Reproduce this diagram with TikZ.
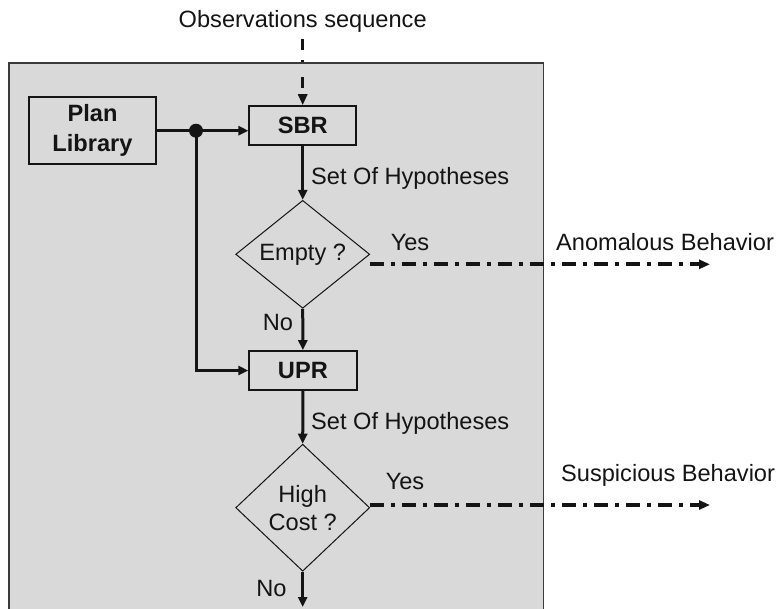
\documentclass[tikz,border=0pt]{standalone}
\usepackage{fontspec}
\setmainfont{Liberation Sans}
\usetikzlibrary{arrows.meta,shapes.geometric}
\definecolor{panel}{HTML}{D9D9D9}
\definecolor{panelline}{HTML}{3A3A3A}
\definecolor{ink}{HTML}{141414}
\begin{document}
\begin{tikzpicture}[x=1pt,y=-1pt,
  font=\fontsize{23.6}{30}\selectfont,
  box/.style={draw=ink, line width=1.6pt, rectangle, inner sep=0pt, align=center,
    font=\fontsize{23.6}{30}\selectfont\bfseries, text=ink},
  decision/.style={draw=ink, line width=1pt, diamond, inner sep=0pt, align=center,
    minimum width=134pt, text=ink, font=\fontsize{23.6}{28}\selectfont},
  lbl/.style={inner sep=0pt, text=ink},
  flow/.style={draw=ink, line width=3pt, -{Triangle[length=10pt,width=9pt]}},
  dashdot/.style={draw=ink, line width=3.8pt, dash pattern=on 14pt off 7pt on 4pt off 7pt,
    -{Triangle[length=11pt,width=9pt]}},
  obsdash/.style={draw=ink, line width=3.5pt, dash pattern=on 11pt off 10pt on 2pt off 15pt,
    -{Triangle[length=11pt,width=9pt]}},
]
\useasboundingbox (0,0) rectangle (778,608);
% panel
\fill[panel] (9,63) rectangle (543.5,620);
\draw[panelline, line width=1.5pt] (9,620) -- (9,63) -- (543.5,63) -- (543.5,620);

% nodes
\node[lbl] (obs) at (302.7,21) {Observations sequence};
\coordinate (obsstart) at (302.7,39);
\node[box, minimum width=127pt, minimum height=67pt] (plan) at (92.5,130.7) {Plan\\Library};
\node[box, minimum width=107pt, minimum height=39pt] (sbr) at (302.7,125.5) {SBR};
\node[decision, minimum height=99pt] (d1) at (302.7,254.3) {Empty ?};
\node[box, minimum width=107.7pt, minimum height=39pt] (upr) at (302.9,370.5) {UPR};
\node[decision, minimum height=127pt] (d2) at (302.7,507.7) {High\\Cost ?};
\coordinate (out) at (302.7,607);
\coordinate (anomend) at (710,264.3);
\coordinate (suspend) at (710,505);

% labels
\node[lbl, anchor=west] (soh1) at (311,178) {Set Of Hypotheses};
\node[lbl, anchor=west] (soh2) at (311,423) {Set Of Hypotheses};
\node[lbl] (yes1) at (410,242) {Yes};
\node[lbl] (yes2) at (405,481) {Yes};
\node[lbl] (no1) at (278,322) {No};
\node[lbl] (no2) at (271.5,588) {No};
\node[lbl, anchor=west] (anom) at (556,242) {Anomalous Behavior};
\node[lbl, anchor=west] (susp) at (561,475) {Suspicious Behavior};

% connectors
\draw[obsdash] (obsstart) -- (sbr.north);
\draw[flow] (plan.east) -- (plan.east -| sbr.west);
\node[circle, fill=ink, inner sep=0pt, minimum size=14pt] (dot) at (196,130.7) {};
\draw[flow] (dot.center) |- (upr.west);
\draw[flow] (sbr.south) -- (d1.north);
\draw[flow] (d1.south) -- (upr.north);
\draw[flow] (upr.south) -- (d2.north);
\draw[flow] (d2.south) -- (out);
\draw[dashdot] ([yshift=-10pt]d1.east) -- (anomend);
\draw[dashdot] ([yshift=2.7pt]d2.east) -- (suspend);
\end{tikzpicture}
\end{document}
